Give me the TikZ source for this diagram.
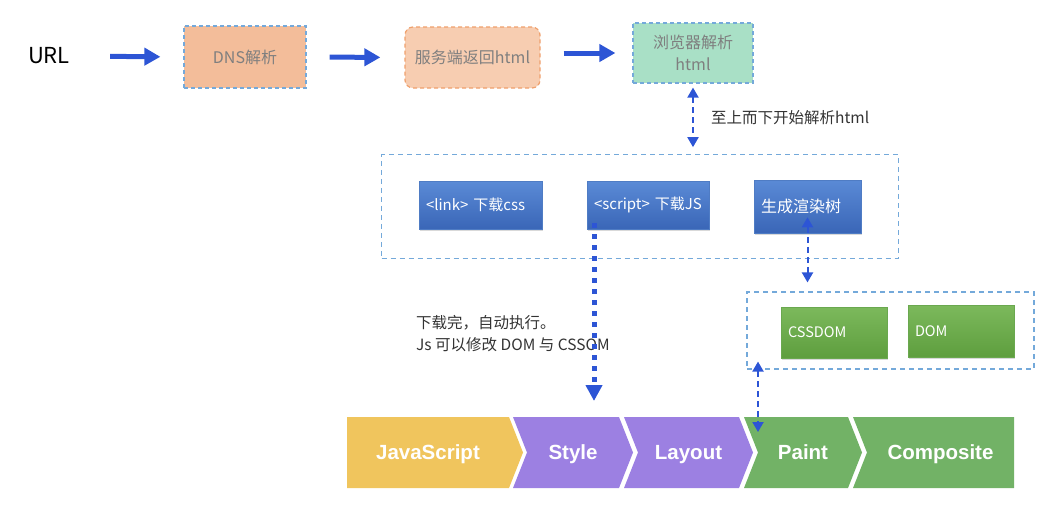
\documentclass[tikz,border=0pt]{standalone}
\usepackage{fontspec}
\setmainfont{Noto Sans CJK SC}
\newfontfamily\stagefont{Liberation Sans}
\usetikzlibrary{arrows.meta}
\usetikzlibrary{fit}
\usetikzlibrary{positioning}
\usetikzlibrary{shadows}

\definecolor{flowblue}{HTML}{2D55D5}
\definecolor{dashblue}{HTML}{74A9DA}
\definecolor{dnsfill}{HTML}{F3BD9A}
\definecolor{servefill}{HTML}{F7CDB1}
\definecolor{serveline}{HTML}{EFA06C}
\definecolor{browserfill}{HTML}{A9E0C6}
\definecolor{boxtext}{HTML}{7F7F7F}
\definecolor{notetext}{HTML}{333333}
\definecolor{tagbluetop}{HTML}{5A8AD6}
\definecolor{tagbluebot}{HTML}{3A66B7}
\definecolor{tagblueline}{HTML}{4F7CC4}
\definecolor{taggreentop}{HTML}{7CB95C}
\definecolor{taggreenbot}{HTML}{5E9E3E}
\definecolor{taggreenline}{HTML}{6AA84F}
\definecolor{stageyellow}{HTML}{F0C55D}
\definecolor{stagepurple}{HTML}{9C80E2}
\definecolor{stagegreen}{HTML}{72B266}

\begin{document}
\begin{tikzpicture}[x=1pt,y=-1pt,
    topbox/.style={draw=dashblue,dash pattern=on 4pt off 3pt,line width=1.2pt,
      text=boxtext,inner sep=0pt,align=center,font=\fontsize{16}{22}\selectfont},
    groupbox/.style={draw=dashblue,dash pattern=on 5pt off 4pt,line width=1.1pt},
    tagbox/.style={line width=0.6pt,text=white,inner ysep=0pt,inner xsep=7pt,align=left,
      drop shadow={shadow xshift=1pt,shadow yshift=-2pt,opacity=0.3}},
    bluebox/.style={tagbox,draw=tagblueline,top color=tagbluetop,bottom color=tagbluebot,
      font=\fontsize{15}{18}\selectfont},
    greenbox/.style={tagbox,draw=taggreenline,top color=taggreentop,bottom color=taggreenbot,
      font=\fontsize{14.5}{18}\selectfont},
    note/.style={text=notetext,inner sep=0pt,align=left,font=\fontsize{15.5}{22}\selectfont},
    stagelabel/.style={text=white,inner sep=0pt,anchor=base,
      font=\stagefont\bfseries\fontsize{20.5}{24}\selectfont},
    bigarrow/.style={draw=flowblue,line width=5pt,-{Triangle[length=16pt,width=17pt]}},
    dasharrow/.style={draw=flowblue,line width=2pt,dash pattern=on 6pt off 4pt,
      {Triangle[length=10pt,width=11pt]}-{Triangle[length=10pt,width=11pt]}},
    dotarrow/.style={draw=flowblue,line width=5pt,dash pattern=on 5pt off 6pt,
      -{Triangle[length=16pt,width=16pt]}}]

  \useasboundingbox (0,0) rectangle (1052,520);

  % top row
  \node [inner sep=0pt,font=\fontsize{22}{26}\selectfont] (url) at (49,56) {URL};
  \node [topbox,fill=dnsfill,minimum width=122pt,minimum height=62pt] (dns) at (245,57) {DNS解析};
  \node [topbox,fill=servefill,draw=serveline,rounded corners=8pt,
    minimum width=135pt,minimum height=61pt] (serve) at (472.5,57.5) {服务端返回html};
  \node [topbox,fill=browserfill,minimum width=120pt,minimum height=60pt] (browser) at (693,53) {浏览器解析\\html};

  \draw [bigarrow,shorten <=40pt,shorten >=23pt] (url.east) -- (dns.west);
  \draw [bigarrow,shorten <=23pt,shorten >=24pt] (dns.east) -- (serve.west);
  \draw [bigarrow,shorten <=23pt,shorten >=17pt] (serve.east |- browser) -- (browser.west);

  % parsing html
  \node [bluebox,text width=109pt,minimum height=47.5pt] (link) at (480.5,205.25) {<link> 下载css};
  \node [bluebox,text width=108pt,minimum height=47.5pt] (script) at (648,205.25) {<script> 下载JS};
  \node [bluebox,text width=93pt,minimum height=53pt,font=\fontsize{16}{19}\selectfont] (render) at (807.5,206.5) {生成渲染树};
  \node [groupbox,fit=(link) (script) (render),inner xsep=37pt,inner ysep=25pt] (parse) {};

  \node [note,anchor=west] (topdown) at (711,118) {至上而下开始解析html};

  % dom trees
  \node [greenbox,text width=92pt,minimum height=51pt] (cssdom) at (834,332.5) {CSSDOM};
  \node [greenbox,text width=92pt,minimum height=52pt] (dom) at (961,331) {DOM};
  \node [groupbox,inner sep=0pt,fit={(747,292) (1034,369)}] (trees) {};

  \node [note,anchor=west] (jsnote) at (416,334) {下载完，自动执行。\\Js 可以修改 DOM 与 CSSOM};

  % pipeline
  \foreach \nm/\xl/\xr/\nl/\nr/\col/\txt in {
      js/347/509/0/14/stageyellow/JavaScript,
      style/513/619/14/14/stagepurple/Style,
      layout/624/739/14/14/stagepurple/Layout,
      paint/744/848/14/14/stagegreen/Paint,
      composite/853/1014/14/0/stagegreen/Composite} {
    \fill [\col] (\xl,417) -- (\xr,417) -- ({\xr+\nr},452.5) -- (\xr,488)
      -- (\xl,488) -- ({\xl+\nl},452.5) -- cycle;
    \node [stagelabel] (\nm) at ({(\xl+\xr+\nl)/2},459.5) {\txt};
  }

  \coordinate (jsrun) at (594,401);
  \coordinate (paintin) at (758,432);

  \draw [dasharrow,shorten <=4pt,shorten >=7pt] (browser.south) -- (parse.north -| browser);
  \draw [dasharrow,shorten <=-16pt,shorten >=9pt] (render.south) -- (trees.north -| render);
  \draw [dasharrow,shorten <=-8pt] (trees.south -| paintin) -- (paintin);
  \draw [dotarrow,shorten <=-6pt] (script.south -| jsrun) -- (jsrun);

\end{tikzpicture}
\end{document}
